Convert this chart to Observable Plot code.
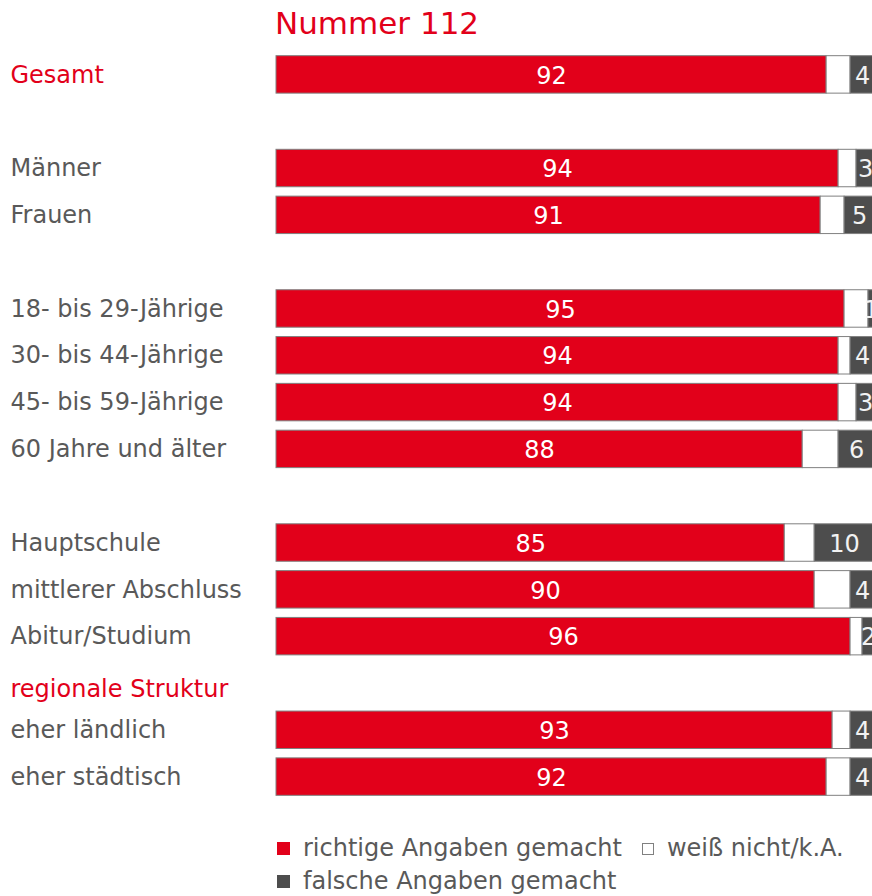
<!DOCTYPE html>
<html>
<head>
<meta charset="utf-8">
<script src="https://cdn.jsdelivr.net/npm/d3@7"></script>
<script src="https://cdn.jsdelivr.net/npm/@observablehq/plot@0.6"></script>
<style>
  body { margin: 0; background: #fff; font-family: "DejaVu Sans", Verdana, sans-serif; }
  #title { height: 44px; line-height: 44px; padding-left: 275px; font-size: 31px; color: #E2001A; box-sizing: border-box; padding-top: 1px; }
  #chart svg { display: block; }
  #legend { margin-top: 18px; margin-left: 277px; width: 590px; display: flex; flex-wrap: wrap; column-gap: 20px; font-size: 24px; color: #595959; line-height: 33px; }
  #legend .item { display: inline-flex; align-items: center; gap: 13px; white-space: nowrap; }
  #legend .sw { display: inline-block; width: 13px; height: 13px; box-sizing: border-box; }
</style>
</head>
<body>
<div id="title"></div>
<div id="chart"></div>
<div id="legend"></div>
<script>
const title = "Nummer 112";
const groups = [
  ["Gesamt"],
  ["Männer", "Frauen"],
  ["18- bis 29-Jährige", "30- bis 44-Jährige", "45- bis 59-Jährige", "60 Jahre und älter"],
  ["Hauptschule", "mittlerer Abschluss", "Abitur/Studium"],
  ["eher ländlich", "eher städtisch"]
];
const sectionHeader = "regionale Struktur";
const categories = ["Gesamt", "Männer", "Frauen", "18- bis 29-Jährige", "30- bis 44-Jährige", "45- bis 59-Jährige", "60 Jahre und älter", "Hauptschule", "mittlerer Abschluss", "Abitur/Studium", "eher ländlich", "eher städtisch"];
const richtig    = [92, 94, 91, 95, 94, 94, 88, 85, 90, 96, 93, 92];
const weissNicht = [ 4,  3,  4,  4,  2,  3,  6,  5,  6,  2,  3,  4];
const falsch     = [ 4,  3,  5,  1,  4,  3,  6, 10,  4,  2,  4,  4];
const seriesNames = ["richtige Angaben gemacht", "weiß nicht/k.A.", "falsche Angaben gemacht"];
const seriesColors = ["#E2001A", "#FFFFFF", "#4D4D4D"];
const labelColors = ["#FFFFFF", "#FFFFFF", "#F2F2F2"];

const RED = "#E2001A", GRAY = "#595959";

document.getElementById("title").textContent = title;

// y domain: groups separated by spacer rows; last group preceded by section header
const domain = [];
groups.forEach((g, i) => {
  if (i > 0) {
    if (i === groups.length - 1) domain.push(sectionHeader);
    else domain.push("__gap" + i);
  }
  g.forEach(c => domain.push(c));
});

const long = [];
categories.forEach((c, i) => {
  [richtig[i], weissNicht[i], falsch[i]].forEach((v, s) => {
    long.push({cat: c, series: seriesNames[s], s, value: v});
  });
});

const labelRows = categories.map(c => ({cat: c}));

const plot = Plot.plot({
  width: 872,
  height: 770,
  marginTop: 7,
  marginBottom: 14,
  marginLeft: 276,
  marginRight: -2,
  x: {domain: [0, 100], axis: null},
  y: {domain, paddingInner: 0.2, paddingOuter: 0.1, round: false, axis: null},
  color: {domain: seriesNames, range: seriesColors},
  style: {fontFamily: "DejaVu Sans, Verdana, sans-serif", overflow: "hidden"},
  marks: [
    Plot.barX(long, Plot.stackX({
      x: "value", y: "cat", fill: "series", order: "s",
      stroke: "#808080", strokeWidth: 1
    })),
    Plot.text(long, Plot.stackX({
      x: "value", y: "cat", order: "s",
      text: d => d.s === 1 ? "" : String(d.value),
      fill: d => labelColors[d.s],
      fontSize: 24, dy: 1
    })),
    Plot.text(labelRows, {
      y: "cat", text: "cat", frameAnchor: "left", textAnchor: "start", dx: -266,
      fill: d => d.cat === "Gesamt" ? RED : GRAY, fontSize: 24
    }),
    Plot.text([sectionHeader], {
      y: d => d, text: d => d, frameAnchor: "left", textAnchor: "start", dx: -266, dy: 6,
      fill: RED, fontSize: 24
    })
  ]
});
plot.style.overflow = "hidden";
document.getElementById("chart").appendChild(plot);

const legend = document.getElementById("legend");
seriesNames.forEach((n, i) => {
  const item = document.createElement("span");
  item.className = "item";
  const sw = document.createElement("span");
  sw.className = "sw";
  sw.style.background = seriesColors[i];
  if (i === 1) { sw.style.border = "1px solid #808080"; sw.style.width = "12px"; sw.style.height = "12px"; }
  item.appendChild(sw);
  item.appendChild(document.createTextNode(n));
  legend.appendChild(item);
});
</script>
</body>
</html>
